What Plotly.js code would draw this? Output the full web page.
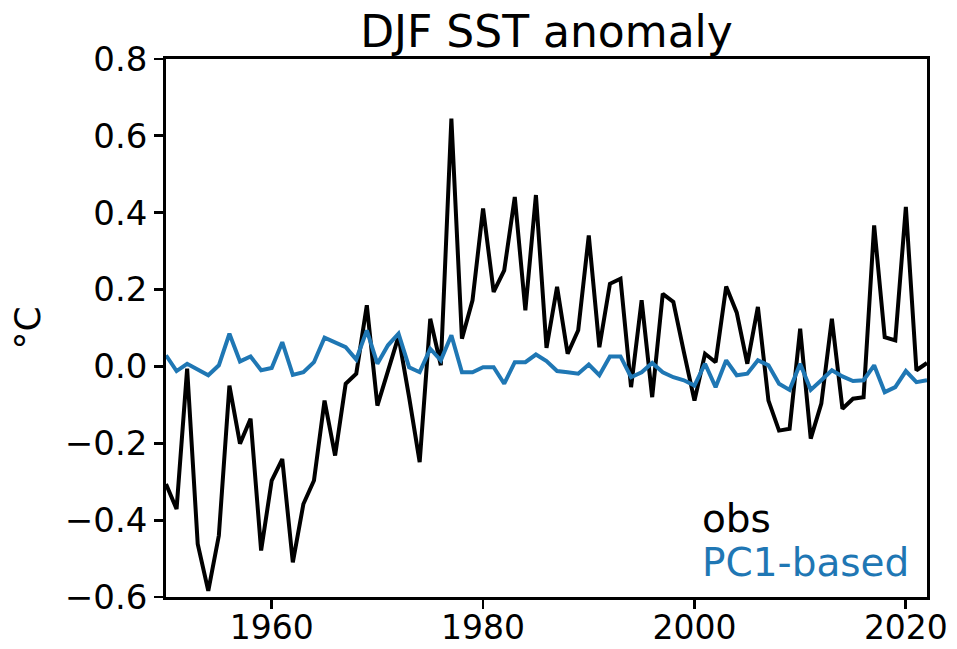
<!DOCTYPE html>
<html>
<head>
<meta charset="utf-8">
<script src="https://cdn.plot.ly/plotly-3.0.1.min.js"></script>
<style>html,body{margin:0;padding:0;background:#fff;}#chart{width:957px;height:649px;}</style>
</head>
<body>
<div id="chart"></div>
<script>
const years = [];
for (let y = 1950; y <= 2022; y++) years.push(y);

const obs = [
 -0.306, -0.371, -0.006, -0.462, -0.584, -0.440, -0.050, -0.201, -0.136, -0.479,
 -0.297, -0.241, -0.510, -0.358, -0.297, -0.089, -0.232, -0.045, -0.019, 0.159,
 -0.102, -0.015, 0.078, -0.080, -0.249, 0.124, 0.003, 0.645, 0.072, 0.172,
 0.411, 0.194, 0.250, 0.441, 0.146, 0.446, 0.048, 0.207, 0.033, 0.094,
 0.341, 0.050, 0.215, 0.228, -0.054, 0.172, -0.080, 0.189, 0.168, 0.037,
 -0.089, 0.033, 0.011, 0.208, 0.140, 0.007, 0.155, -0.089, -0.167, -0.162,
 0.098, -0.188, -0.097, 0.124, -0.110, -0.084, -0.080, 0.367, 0.076, 0.068,
 0.415, -0.010, 0.009
];

const pc1 = [
 0.029, -0.012, 0.007, -0.009, -0.023, 0.003, 0.085, 0.013, 0.026, -0.010,
 -0.004, 0.063, -0.022, -0.015, 0.011, 0.075, 0.063, 0.050, 0.018, 0.094,
 0.007, 0.055, 0.085, -0.002, -0.015, 0.046, 0.016, 0.081, -0.015, -0.015,
 -0.002, -0.002, -0.045, 0.011, 0.011, 0.031, 0.014, -0.012, -0.015, -0.019,
 0.005, -0.023, 0.026, 0.026, -0.028, -0.015, 0.009, -0.015, -0.028, -0.036,
 -0.050, 0.007, -0.054, 0.016, -0.023, -0.019, 0.016, 0.003, -0.045, -0.061,
 0.007, -0.061, -0.036, -0.010, -0.026, -0.038, -0.036, 0.003, -0.067, -0.054,
 -0.012, -0.041, -0.036
];

const seriesNames = ['obs', 'PC1-based'];
const seriesColors = ['#000000', '#1f77b4'];

const traces = [
  {x: years, y: obs, type: 'scatter', mode: 'lines', name: seriesNames[0],
   line: {color: seriesColors[0], width: 4}, showlegend: false},
  {x: years, y: pc1, type: 'scatter', mode: 'lines', name: seriesNames[1],
   line: {color: seriesColors[1], width: 4}, showlegend: false}
];

const font = {family: 'DejaVu Sans', size: 34, color: '#000'};

const layout = {
  width: 957, height: 649,
  margin: {l: 166, r: 30, t: 59, b: 52},
  paper_bgcolor: '#fff', plot_bgcolor: '#fff',
  font: font,
  title: {text: 'DJF SST anomaly', font: {family: 'DejaVu Sans', size: 44, color: '#000'},
          x: 0.5, xanchor: 'center', xref: 'paper', y: 0.952, yanchor: 'middle', yref: 'container'},
  xaxis: {range: [1950, 2022], tick0: 1960, dtick: 20, showgrid: false, zeroline: false,
          showline: true, mirror: true, linecolor: '#000', linewidth: 2.8,
          ticks: 'outside', ticklen: 9, tickwidth: 2.8, tickcolor: '#000',
          ticklabelstandoff: -9,
          tickfont: {family: 'DejaVu Sans', size: 33, color: '#000'}},
  yaxis: {range: [-0.6, 0.8], tick0: 0, dtick: 0.2, tickformat: '.1f', showgrid: false, zeroline: false,
          showline: true, mirror: true, linecolor: '#000', linewidth: 2.8,
          ticks: 'outside', ticklen: 9, tickwidth: 2.8, tickcolor: '#000',
          tickfont: font,
          title: {text: '°C', font: {family: 'DejaVu Sans', size: 36, color: '#000'}, standoff: 14}},
  annotations: [
    {text: seriesNames[0], xref: 'paper', yref: 'paper', x: 0.702, y: 0.145,
     xanchor: 'left', yanchor: 'middle', showarrow: false,
     font: {family: 'DejaVu Sans', size: 39, color: seriesColors[0]}},
    {text: seriesNames[1], xref: 'paper', yref: 'paper', x: 0.702, y: 0.065,
     xanchor: 'left', yanchor: 'middle', showarrow: false,
     font: {family: 'DejaVu Sans', size: 39, color: seriesColors[1]}}
  ]
};

Plotly.newPlot('chart', traces, layout, {displayModeBar: false, staticPlot: true});
</script>
</body>
</html>
